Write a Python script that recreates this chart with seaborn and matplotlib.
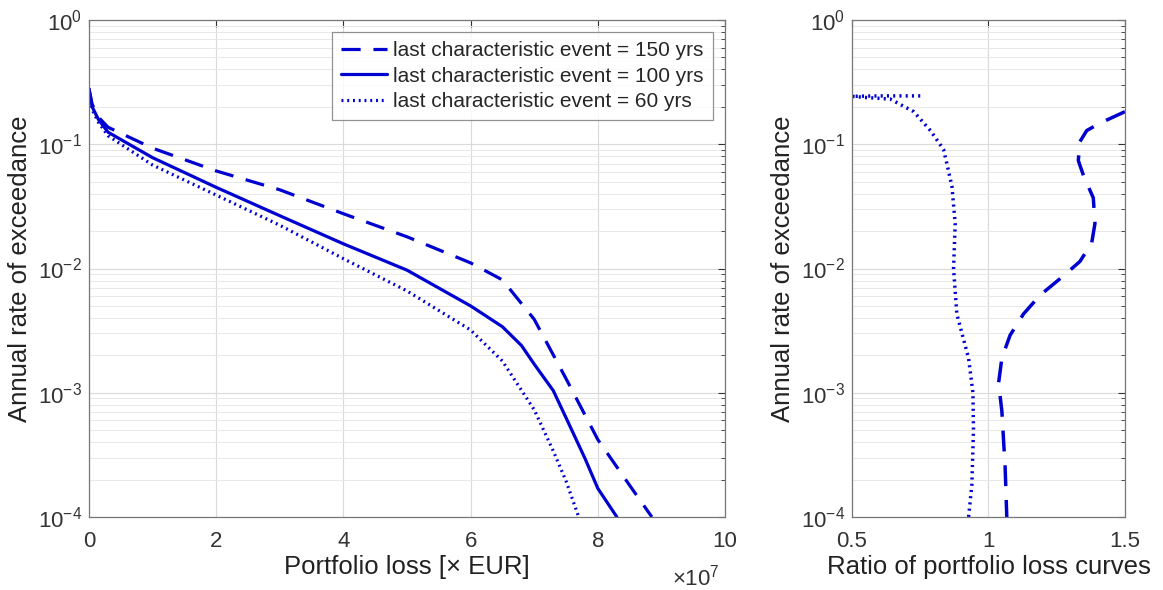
import numpy as np
import pandas as pd
import matplotlib
matplotlib.use("Agg")
import matplotlib.pyplot as plt
import matplotlib.ticker as mticker
import seaborn as sns

# loss curves (x in 1e7 EUR, y annual rate of exceedance)
loss_150 = [0.0, 0.05, 0.15, 0.3, 1.0, 2.0, 3.0, 4.0, 5.0, 6.0, 6.5, 7.0, 7.5, 8.0, 8.5, 8.85]
rate_150 = [0.28, 0.21, 0.165, 0.137, 0.093, 0.061, 0.043, 0.0276, 0.018, 0.0111, 0.0081, 0.0039, 0.0013, 4.2e-4, 1.8e-4, 1.0e-4]

loss_100 = [0.0, 0.05, 0.15, 0.3, 1.0, 2.0, 3.0, 4.0, 5.0, 6.0, 6.5, 6.8, 7.0, 7.3, 7.5, 7.8, 8.0, 8.3]
rate_100 = [0.28, 0.2, 0.158, 0.125, 0.078, 0.045, 0.0266, 0.0158, 0.0097, 0.005, 0.0034, 0.0024, 0.0017, 0.00104, 6.3e-4, 2.95e-4, 1.7e-4, 1.0e-4]

loss_60 = [0.0, 0.05, 0.15, 0.3, 1.0, 2.0, 3.0, 4.0, 5.0, 6.0, 6.5, 7.0, 7.3, 7.5, 7.7]
rate_60 = [0.28, 0.19, 0.15, 0.117, 0.068, 0.039, 0.0223, 0.012, 0.0066, 0.0032, 0.0018, 7.3e-4, 3.4e-4, 1.95e-4, 1.0e-4]

# ratio curves
ratio_60 = [0.75, 0.6, 0.5, 0.55, 0.64, 0.726, 0.787, 0.835, 0.848, 0.866, 0.878, 0.872, 0.884, 0.927, 0.943, 0.945, 0.939, 0.927]
ratio_60_rate = [0.245, 0.245, 0.243, 0.238, 0.231, 0.183, 0.129, 0.091, 0.069, 0.046, 0.023, 0.01, 0.0043, 0.0019, 0.001, 5e-4, 1.8e-4, 1.0e-4]

ratio_150 = [1.5, 1.409, 1.36, 1.335, 1.329, 1.348, 1.384, 1.39, 1.378, 1.335, 1.274, 1.189, 1.128, 1.079, 1.049, 1.037, 1.049, 1.061, 1.067]
ratio_150_rate = [0.183, 0.148, 0.129, 0.105, 0.074, 0.056, 0.037, 0.023, 0.016, 0.0114, 0.0087, 0.0061, 0.0043, 0.0029, 0.0019, 0.0012, 7.1e-4, 2.5e-4, 1.0e-4]

legend_labels = ["last characteristic event = 150 yrs",
                 "last characteristic event = 100 yrs",
                 "last characteristic event = 60 yrs"]

sns.set_style("white")
plt.rcParams["font.family"] = ["Liberation Sans", "DejaVu Sans"]
plt.rcParams["mathtext.fontset"] = "custom"
plt.rcParams["mathtext.rm"] = "Liberation Sans"
plt.rcParams["mathtext.it"] = "Liberation Sans:italic"

blue = "#0000d0"
dash = (6, 4)
dot = (0.6, 1.2)

fig = plt.figure(figsize=(11.63, 5.90), dpi=100)
ax1 = fig.add_axes([0.0765, 0.1237, 0.5469, 0.8424])
ax2 = fig.add_axes([0.7326, 0.1237, 0.2347, 0.8424])


def style_axis(ax):
    ax.set_yscale("log")
    ax.set_ylim(1e-4, 1)
    ax.set_yticks([1e-4, 1e-3, 1e-2, 1e-1, 1])
    ax.yaxis.set_major_formatter(mticker.LogFormatterMathtext())
    ax.yaxis.set_minor_locator(mticker.LogLocator(base=10, subs=np.arange(2, 10)))
    ax.yaxis.set_minor_formatter(mticker.NullFormatter())
    ax.grid(True, which="major", axis="both", color="#dadada", lw=0.8)
    ax.grid(True, which="minor", axis="y", color="#e8e8e8", lw=0.7)
    ax.tick_params(which="both", direction="in", top=True, right=True,
                   labelsize=16, colors="#333333")
    ax.tick_params(axis="y", pad=5)
    ax.tick_params(axis="x", pad=10)
    ax.tick_params(which="major", length=5)
    ax.tick_params(which="minor", length=3)
    for s in ax.spines.values():
        s.set_color("#777777")
        s.set_linewidth(0.9)
    ax.set_ylabel("Annual rate of exceedance", fontsize=18.5, color="#222222", labelpad=4)


# left panel: loss curves
sns.lineplot(x=loss_150, y=rate_150, ax=ax1, color=blue, lw=2.3, sort=False,
             estimator=None, label=legend_labels[0]).lines[-1].set_dashes(dash)
sns.lineplot(x=loss_100, y=rate_100, ax=ax1, color=blue, lw=2.3, sort=False,
             estimator=None, label=legend_labels[1])
sns.lineplot(x=loss_60, y=rate_60, ax=ax1, color=blue, lw=2.3, sort=False,
             estimator=None, label=legend_labels[2]).lines[-1].set_dashes(dot)

style_axis(ax1)
ax1.set_xlim(0, 10)
ax1.set_xticks([0, 2, 4, 6, 8, 10])
ax1.set_xlabel("Portfolio loss [\u00d7 EUR]", fontsize=18.5, color="#222222", labelpad=2)
ax1.text(0.992, -0.121, r"$\times10^{7}$", transform=ax1.transAxes,
         ha="right", va="center", fontsize=16, color="#333333")
leg = ax1.legend(loc="upper right", fontsize=15, frameon=True, fancybox=False,
                 handlelength=2.2, handletextpad=0.3, borderpad=0.45,
                 labelspacing=0.3, borderaxespad=0,
                 bbox_to_anchor=(0.981, 0.976))
leg.get_frame().set_edgecolor("#777777")
leg.get_frame().set_linewidth(0.9)

# right panel: ratio curves
sns.lineplot(x=ratio_60, y=ratio_60_rate, ax=ax2, color=blue, lw=2.5, sort=False,
             estimator=None).lines[-1].set_dashes(dot)
sns.lineplot(x=ratio_150, y=ratio_150_rate, ax=ax2, color=blue, lw=2.5, sort=False,
             estimator=None).lines[-1].set_dashes(dash)

style_axis(ax2)
ax2.set_xlim(0.5, 1.5)
ax2.set_xticks([0.5, 1, 1.5])
ax2.xaxis.set_major_formatter(mticker.FuncFormatter(lambda v, p: f"{v:g}"))
ax2.set_xlabel("Ratio of portfolio loss curves", fontsize=18.5, color="#222222", labelpad=2)

fig.savefig("out.png", dpi=100, facecolor="white")
